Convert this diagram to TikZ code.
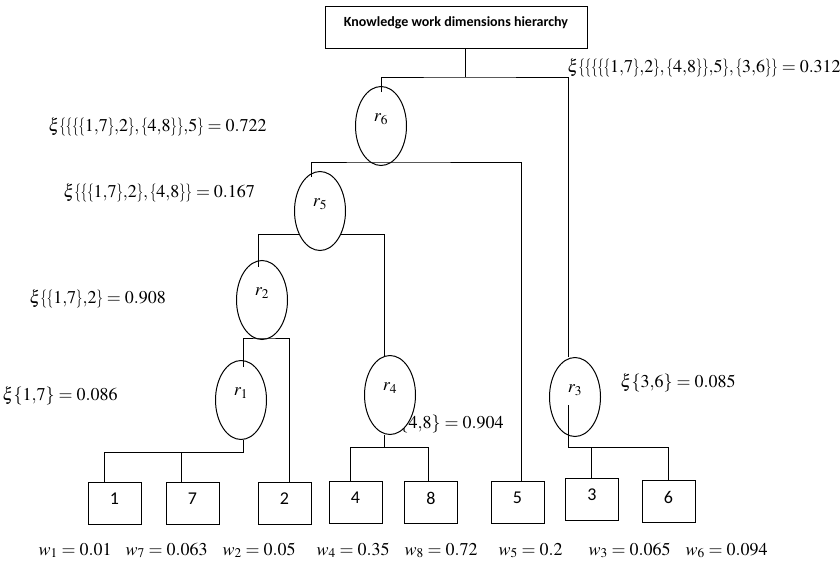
\documentclass[tikz,border=0pt]{standalone}
\usepackage{mathptmx}
\usepackage[no-math]{fontspec}
\setmainfont{Liberation Serif}
\newfontfamily\calibri{Carlito}
\usetikzlibrary{shapes.geometric}
\newcommand{\xlb}{\mathopen{\scalebox{0.7}[1]{$\{$}}}
\newcommand{\xrb}{\mathclose{\scalebox{0.7}[1]{$\}$}}}

\begin{document}
\begin{tikzpicture}[x=1pt, y=-1pt, line width=1pt,
  rnode/.style={ellipse, draw, fill=white, minimum width=51pt, minimum height=79pt, inner sep=0pt, text height=5pt, text depth=14pt, font=\fontsize{18}{18}\selectfont},
  leaf/.style={rectangle, draw, minimum width=53pt, minimum height=42pt, inner sep=0pt, text depth=8pt, font=\calibri\fontsize{18}{18}\selectfont},
  xilabel/.style={anchor=base west, inner sep=0pt, font=\fontsize{18}{18}\selectfont},
  wlabel/.style={anchor=base west, inner sep=0pt, font=\fontsize{18}{18}\selectfont}]
\useasboundingbox (0,0) rectangle (840,565);
\node[draw, minimum width=262pt, minimum height=42pt, inner sep=0pt, text height=10pt, text depth=11pt, font=\calibri\bfseries\fontsize{14}{14}\selectfont] (title) at (456,27) {Knowledge work dimensions hierarchy};
\node[xilabel, anchor=base east] (l4) at (504,428) {$\{4{,}8\} = 0.904$};
\node[rnode] (r6) at (381,126) {$r_6$};
\node[rnode] (r5) at (320,211) {$r_5$};
\node[rnode] (r2) at (262,300) {$r_2$};
\node[rnode] (r1) at (241,400) {$r_1$};
\node[rnode] (r4) at (390,395) {$r_4$};
\node[rnode] (r3) at (575,397) {$r_3$};
\node[leaf] (n1) at (114.5,503) {1};
\node[leaf] (n7) at (192.5,503) {7};
\node[leaf] (n2) at (284.5,503) {2};
\node[leaf] (n4) at (355.5,502) {4};
\node[leaf] (n8) at (431,502) {8};
\node[leaf] (n5) at (517.5,502) {5};
\node[leaf] (n3) at (592,499) {3};
\node[leaf] (n6) at (668.5,501) {6};
\coordinate (j0) at (465,77);
\coordinate (t6) at (381,92);
\coordinate (a3) at (568,357);
\draw[](title.south -| j0) -- (j0);
\draw[](t6) |- (j0) -| (a3);
\coordinate (t5) at (311,177);
\coordinate (b6) at (381,162);
\draw[](t5) |- (b6) -| ([xshift=3.5pt]n5.north);
\coordinate (t2) at (258,267);
\coordinate (a4) at (384,357);
\draw[](r5.228) -| (t2);
\draw[](r5.312) -| (a4);
\coordinate (t1) at (243,367);
\coordinate (b2) at (262,338);
\draw[](t1) |- (b2) -| ([xshift=4.5pt]n2.north);
\coordinate (k1) at (243,452);
\draw[](r1.south -| k1) -- (k1) -| ([xshift=-10.5pt]n1.north);
\draw[](k1) -| ([xshift=-11.5pt]n7.north);
\coordinate (k4) at (384,447);
\draw[](r4.south -| k4) -- (k4) -| ([xshift=-5.5pt]n4.north);
\draw[](k4) -| ([xshift=-3pt]n8.north);
\coordinate (t3) at (568,405);
\coordinate (k3) at (568,447);
\draw[](t3) -- (k3) -| ([xshift=-1pt]n3.north);
\draw[](k3) -| ([xshift=-0.5pt]n6.north);
\node[xilabel] (l0) at (567,72) {$\xi\xlb\xlb\xlb\xlb\xlb 1{,}7\xrb{,}2\xrb, \xlb 4{,}8\xrb\xrb{,}5\xrb, \xlb 3{,}6\xrb\xrb = 0.312$};
\node[xilabel] (l6) at (48,131) {$\xi\xlb\xlb\xlb\xlb 1{,}7\xrb{,}2\xrb, \xlb 4{,}8\xrb\xrb{,}5\xrb = 0.722$};
\node[xilabel] (l5) at (63,197) {$\xi\xlb\xlb\xlb 1{,}7\xrb{,}2\xrb, \xlb 4{,}8\xrb\xrb = 0.167$};
\node[xilabel] (l2) at (29,303) {$\xi\xlb\xlb 1{,}7\xrb{,}2\xrb = 0.908$};
\node[xilabel] (l1) at (2,400) {$\xi\{1{,}7\} = 0.086$};
\node[xilabel] (l3) at (620,387) {$\xi\{3{,}6\} = 0.085$};
\node[wlabel] (w1) at (38,555) {$w_1 = 0.01$};
\node[wlabel] (w7) at (125,555) {$w_7 = 0.063$};
\node[wlabel] (w2) at (222,555) {$w_2 = 0.05$};
\node[wlabel] (w4) at (316,555) {$w_4 = 0.35$};
\node[wlabel] (w8) at (404,555) {$w_8 = 0.72$};
\node[wlabel] (w5) at (498,555) {$w_5 = 0.2$};
\node[wlabel] (w3) at (588,555) {$w_3 = 0.065$};
\node[wlabel] (w6) at (685,555) {$w_6 = 0.094$};
\end{tikzpicture}
\end{document}
